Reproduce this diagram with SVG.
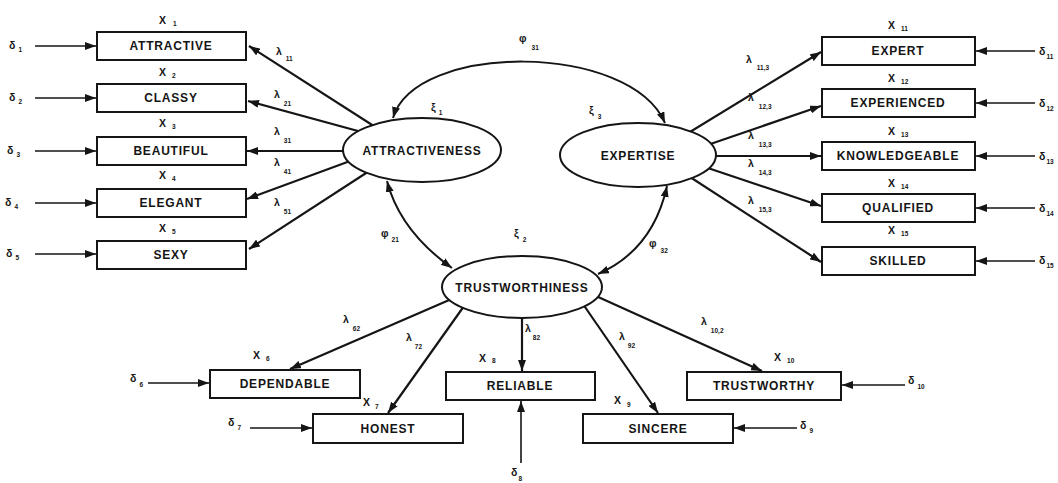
<svg xmlns="http://www.w3.org/2000/svg" width="1058" height="483" viewBox="0 0 1058 483">
<style>
.box{fill:#fff;stroke:#151515;stroke-width:2}
.ell{fill:#fff;stroke:#151515;stroke-width:2}
.lbl{font-family:"Liberation Sans",Arial,sans-serif;font-weight:bold;font-size:12px;letter-spacing:0.8px;text-anchor:middle;fill:#151515}
.sym{font-family:"Liberation Sans",Arial,sans-serif;font-weight:bold;font-size:10.5px;fill:#151515}
.sub{font-size:6.5px}
.ln{stroke:#151515;stroke-width:2.2;fill:none;marker-end:url(#ah)}
.dl{stroke:#151515;stroke-width:1.6;fill:none;marker-end:url(#ah)}
.cv{stroke:#151515;stroke-width:2;fill:none;marker-start:url(#ah);marker-end:url(#ah)}
</style>
<defs>
<marker id="ah" viewBox="0 0 11 8" refX="11" refY="4" markerWidth="11" markerHeight="8" markerUnits="userSpaceOnUse" orient="auto-start-reverse">
<path d="M0,0 L11,4 L0,8 z" fill="#151515"/>
</marker>
</defs>

<g id="connectors">
<line class="ln" x1="380" y1="130" x2="249" y2="46"/>
<line class="ln" x1="380" y1="137" x2="248" y2="101"/>
<line class="ln" x1="380" y1="151" x2="247" y2="151"/>
<line class="ln" x1="380" y1="150" x2="247" y2="199"/>
<line class="ln" x1="380" y1="164" x2="249" y2="249"/>
<line class="ln" x1="667" y1="146" x2="821" y2="52"/>
<line class="ln" x1="690" y1="151" x2="821" y2="106"/>
<line class="ln" x1="690" y1="156" x2="821" y2="156"/>
<line class="ln" x1="690" y1="162" x2="821" y2="206"/>
<line class="ln" x1="670" y1="164" x2="821" y2="262"/>
<line class="ln" x1="470" y1="291" x2="290" y2="369"/>
<line class="ln" x1="474" y1="292" x2="388" y2="413"/>
<line class="ln" x1="522" y1="300" x2="522" y2="371"/>
<line class="ln" x1="574" y1="291" x2="658" y2="413"/>
<line class="ln" x1="576" y1="287" x2="762" y2="371"/>
<line class="dl" x1="35" y1="46" x2="96" y2="46"/>
<line class="dl" x1="35" y1="98" x2="96" y2="98"/>
<line class="dl" x1="35" y1="151" x2="96" y2="151"/>
<line class="dl" x1="35" y1="203" x2="96" y2="203"/>
<line class="dl" x1="35" y1="254" x2="96" y2="254"/>
<line class="dl" x1="1035" y1="51" x2="976" y2="51"/>
<line class="dl" x1="1035" y1="103" x2="976" y2="103"/>
<line class="dl" x1="1035" y1="156" x2="976" y2="156"/>
<line class="dl" x1="1035" y1="208" x2="976" y2="208"/>
<line class="dl" x1="1035" y1="261" x2="976" y2="261"/>
<line class="dl" x1="148" y1="383" x2="209" y2="383"/>
<line class="dl" x1="250" y1="428" x2="312" y2="428"/>
<line class="dl" x1="521" y1="463" x2="521" y2="401"/>
<line class="dl" x1="797" y1="428" x2="734" y2="428"/>
<line class="dl" x1="905" y1="385" x2="842" y2="385"/>
<path class="cv" d="M393,118 C415,42 630,42 665,123"/>
<path class="cv" d="M387,181 Q400,231 452,268"/>
<path class="cv" d="M667,186 Q653,250 598,274"/>
</g>

<g id="attractiveness">
<ellipse class="ell" cx="422" cy="150" rx="79" ry="32"/>
<text class="lbl" x="422" y="155">ATTRACTIVENESS</text>
<text class="sym" x="431" y="111">ξ<tspan class="sub" dx="3" dy="4">1</tspan></text>
</g>
<g id="expertise">
<ellipse class="ell" cx="638" cy="155" rx="78" ry="32"/>
<text class="lbl" x="638" y="160">EXPERTISE</text>
<text class="sym" x="589" y="114">ξ<tspan class="sub" dx="4" dy="5">3</tspan></text>
</g>
<g id="trustworthiness">
<ellipse class="ell" cx="522" cy="287" rx="80" ry="31"/>
<text class="lbl" x="522" y="292">TRUSTWORTHINESS</text>
<text class="sym" x="514" y="237">ξ<tspan class="sub" dx="4" dy="5">2</tspan></text>
</g>

<g id="cov-labels">
<text class="sym" x="519" y="42">φ<tspan class="sub" dx="5" dy="8">31</tspan></text>
<text class="sym" x="381" y="237">φ<tspan class="sub" dx="3" dy="5">21</tspan></text>
<text class="sym" x="649" y="247">φ<tspan class="sub" dx="4" dy="6">32</tspan></text>
</g>

<g id="x1"><rect class="box" x="97" y="32" width="149" height="28"/><text class="lbl" x="171" y="50">ATTRACTIVE</text>
<text class="sym" x="159" y="24">X<tspan class="sub" dx="7" dy="2">1</tspan></text>
<text class="sym" x="9" y="49">δ<tspan class="sub" dx="3" dy="3">1</tspan></text>
<text class="sym" x="276" y="55">λ<tspan class="sub" dx="4" dy="6">11</tspan></text></g>
<g id="x2"><rect class="box" x="97" y="84" width="149" height="28"/><text class="lbl" x="171" y="102">CLASSY</text>
<text class="sym" x="159" y="76">X<tspan class="sub" dx="6" dy="2">2</tspan></text>
<text class="sym" x="9" y="101">δ<tspan class="sub" dx="3" dy="3">2</tspan></text>
<text class="sym" x="274" y="98">λ<tspan class="sub" dx="4" dy="8">21</tspan></text></g>
<g id="x3"><rect class="box" x="97" y="137" width="149" height="28"/><text class="lbl" x="171" y="155">BEAUTIFUL</text>
<text class="sym" x="159" y="127">X<tspan class="sub" dx="6" dy="2">3</tspan></text>
<text class="sym" x="7" y="154">δ<tspan class="sub" dx="3" dy="3">3</tspan></text>
<text class="sym" x="274" y="135">λ<tspan class="sub" dx="4" dy="8">31</tspan></text></g>
<g id="x4"><rect class="box" x="97" y="189" width="149" height="28"/><text class="lbl" x="171" y="207">ELEGANT</text>
<text class="sym" x="159" y="179">X<tspan class="sub" dx="6" dy="2">4</tspan></text>
<text class="sym" x="5" y="206">δ<tspan class="sub" dx="3" dy="3">4</tspan></text>
<text class="sym" x="274" y="166">λ<tspan class="sub" dx="4" dy="8">41</tspan></text></g>
<g id="x5"><rect class="box" x="97" y="241" width="149" height="28"/><text class="lbl" x="171" y="259">SEXY</text>
<text class="sym" x="159" y="232">X<tspan class="sub" dx="6" dy="2">5</tspan></text>
<text class="sym" x="6" y="257">δ<tspan class="sub" dx="3" dy="3">5</tspan></text>
<text class="sym" x="274" y="206">λ<tspan class="sub" dx="4" dy="8">51</tspan></text></g>

<g id="x11"><rect class="box" x="822" y="37" width="153" height="28"/><text class="lbl" x="898" y="55">EXPERT</text>
<text class="sym" x="888" y="29">X<tspan class="sub" dx="6" dy="2">11</tspan></text>
<text class="sym" x="1039" y="55">δ<tspan class="sub" dx="1" dy="4">11</tspan></text>
<text class="sym" x="746" y="63">λ<tspan class="sub" dx="5" dy="7">11,3</tspan></text></g>
<g id="x12"><rect class="box" x="822" y="89" width="153" height="28"/><text class="lbl" x="898" y="107">EXPERIENCED</text>
<text class="sym" x="888" y="82">X<tspan class="sub" dx="6" dy="2">12</tspan></text>
<text class="sym" x="1039" y="107">δ<tspan class="sub" dx="1" dy="4">12</tspan></text>
<text class="sym" x="748" y="101">λ<tspan class="sub" dx="5" dy="8">12,3</tspan></text></g>
<g id="x13"><rect class="box" x="822" y="142" width="153" height="28"/><text class="lbl" x="898" y="160">KNOWLEDGEABLE</text>
<text class="sym" x="888" y="135">X<tspan class="sub" dx="6" dy="2">13</tspan></text>
<text class="sym" x="1039" y="160">δ<tspan class="sub" dx="1" dy="4">13</tspan></text>
<text class="sym" x="748" y="139">λ<tspan class="sub" dx="5" dy="8">13,3</tspan></text></g>
<g id="x14"><rect class="box" x="822" y="194" width="153" height="28"/><text class="lbl" x="898" y="212">QUALIFIED</text>
<text class="sym" x="888" y="187">X<tspan class="sub" dx="6" dy="2">14</tspan></text>
<text class="sym" x="1039" y="212">δ<tspan class="sub" dx="1" dy="4">14</tspan></text>
<text class="sym" x="748" y="167">λ<tspan class="sub" dx="5" dy="8">14,3</tspan></text></g>
<g id="x15"><rect class="box" x="822" y="247" width="153" height="28"/><text class="lbl" x="898" y="265">SKILLED</text>
<text class="sym" x="888" y="234">X<tspan class="sub" dx="6" dy="2">15</tspan></text>
<text class="sym" x="1039" y="264">δ<tspan class="sub" dx="1" dy="4">15</tspan></text>
<text class="sym" x="748" y="204">λ<tspan class="sub" dx="5" dy="8">15,3</tspan></text></g>

<g id="x6"><rect class="box" x="210" y="370" width="150" height="28"/><text class="lbl" x="285" y="388">DEPENDABLE</text>
<text class="sym" x="253" y="359">X<tspan class="sub" dx="6" dy="2">6</tspan></text>
<text class="sym" x="130" y="382">δ<tspan class="sub" dx="3" dy="5">6</tspan></text>
<text class="sym" x="343" y="323">λ<tspan class="sub" dx="4" dy="8">62</tspan></text></g>
<g id="x7"><rect class="box" x="313" y="414" width="150" height="29"/><text class="lbl" x="388" y="433">HONEST</text>
<text class="sym" x="363" y="406">X<tspan class="sub" dx="5" dy="3">7</tspan></text>
<text class="sym" x="228" y="426">δ<tspan class="sub" dx="3" dy="4">7</tspan></text>
<text class="sym" x="406" y="341">λ<tspan class="sub" dx="3" dy="8">72</tspan></text></g>
<g id="x8"><rect class="box" x="446" y="372" width="149" height="28"/><text class="lbl" x="520" y="390">RELIABLE</text>
<text class="sym" x="479" y="362">X<tspan class="sub" dx="6" dy="1">8</tspan></text>
<text class="sym" x="511" y="476">δ<tspan class="sub" dx="1" dy="5">8</tspan></text>
<text class="sym" x="525" y="332">λ<tspan class="sub" dx="2" dy="8">82</tspan></text></g>
<g id="x9"><rect class="box" x="583" y="414" width="150" height="29"/><text class="lbl" x="658" y="433">SINCERE</text>
<text class="sym" x="614" y="404">X<tspan class="sub" dx="6" dy="3">9</tspan></text>
<text class="sym" x="800" y="429">δ<tspan class="sub" dx="3" dy="4">9</tspan></text>
<text class="sym" x="619" y="340">λ<tspan class="sub" dx="3" dy="8">92</tspan></text></g>
<g id="x10"><rect class="box" x="687" y="372" width="154" height="28"/><text class="lbl" x="764" y="390">TRUSTWORTHY</text>
<text class="sym" x="774" y="361">X<tspan class="sub" dx="6" dy="2">10</tspan></text>
<text class="sym" x="908" y="384">δ<tspan class="sub" dx="3" dy="5">10</tspan></text>
<text class="sym" x="701" y="325">λ<tspan class="sub" dx="4" dy="8">10,2</tspan></text></g>
</svg>
